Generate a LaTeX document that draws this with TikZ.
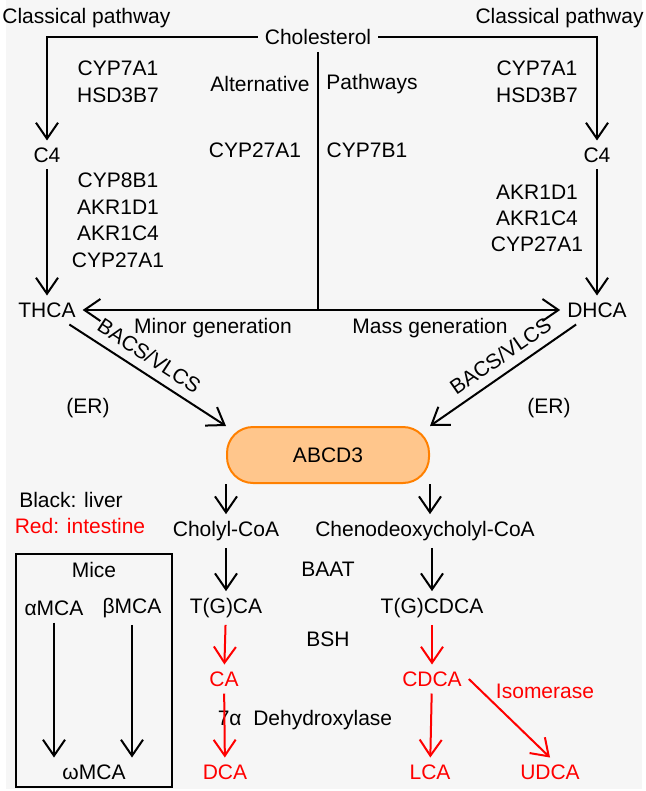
\documentclass[tikz,border=0pt]{standalone}
\usepackage{fontspec}
\setmainfont{Liberation Sans}
\usetikzlibrary{arrows.meta}
\begin{document}
\begin{tikzpicture}[x=0.5pt,y=-0.5pt,font=\fontsize{10.5}{12}\selectfont,
  arr/.style={draw,line width=1pt,-{Straight Barb[length=8pt,width=11pt]}},
  rarr/.style={arr,red},
  red text/.style={text=red}]
\useasboundingbox (0,0) rectangle (646,791);
\fill[gray!7] (6,0) rectangle (642,789);
% top
\node (chol) at (318,37) {Cholesterol};
\node (cpl) at (0,18) [anchor=west,inner xsep=1pt] {Classical pathway};
\node (cpr) at (646,18) [anchor=east,inner xsep=1pt] {Classical pathway};
\node (c4l) at (47,155) {C4};
\node (c4r) at (597,155) {C4};
\node (thca) at (47,310) {THCA};
\node (dhca) at (597,310) {DHCA};
\node at (118,68) {CYP7A1};
\node at (118,95) {HSD3B7};
\node at (537,68) {CYP7A1};
\node at (537,95) {HSD3B7};
\node at (260,84) {Alternative};
\node at (372,84) {Pathways};
\node at (255,150) {CYP27A1};
\node at (367,150) {CYP7B1};
\node at (118,180) {CYP8B1};
\node at (118,207) {AKR1D1};
\node at (118,233) {AKR1C4};
\node at (118,260) {CYP27A1};
\node at (537,192) {AKR1D1};
\node at (537,218) {AKR1C4};
\node at (537,244) {CYP27A1};
\node at (213,328) {Minor generation};
\node at (430,328) {Mass generation};
\coordinate (mid) at (318,310);
\draw[arr] (chol.west) -| (c4l);
\draw[arr] (chol.east) -| (c4r);
\draw[arr] (c4l) -- (thca);
\draw[arr] (c4r) -- (dhca);
\draw[line width=1pt] (chol) -- (mid);
\draw[arr,{Straight Barb[length=8pt,width=11pt]}-{Straight Barb[length=8pt,width=11pt]}] (thca) -- (dhca);
% ABCD3
\node (abcd) at (328,455) [draw=orange,line width=1pt,fill=orange!45,rounded corners=13pt,
  minimum width=101pt,minimum height=28pt] {ABCD3};
\draw[arr] (thca) -- (abcd.north west) node[pos=0.45,sloped,above=1pt] {BACS/VLCS};
\draw[arr] (dhca) -- (abcd.north east) node[pos=0.45,sloped,above=1pt] {BACS/VLCS};
\node at (88,408) {(ER)};
\node at (549,408) {(ER)};
% lower
\node (liver) at (71,500) {Black: liver};
\node[red text] (intest) at (80,526) {Red: intestine};
\node (ccoa) at (226,531) {Cholyl-CoA};
\node (cdcoa) at (425,531) {Chenodeoxycholyl-CoA};
\node (tgca) at (226,608) {T(G)CA};
\node (tgcdca) at (432,608) {T(G)CDCA};
\node (baat) at (328,569) {BAAT};
\node (bsh) at (328,639) {BSH};
\node[red text] (ca) at (224,679) {CA};
\node[red text] (cdca) at (432,679) {CDCA};
\node[red text] (dca) at (225,772) {DCA};
\node[red text] (lca) at (430,772) {LCA};
\node[red text] (udca) at (550,772) {UDCA};
\node[red text] (isom) at (545,691) {Isomerase};
\node (dehyd) at (305,720) {7α\ \ Dehydroxylase};
\draw[arr] (abcd.south west) coordinate (a1) -- (a1 |- ccoa.north);
\draw[arr] (abcd.south east) coordinate (a2) -- (a2 |- cdcoa.north);
\draw[arr] (ccoa) -- (tgca);
\draw[arr] (cdcoa.south -| tgcdca) -- (tgcdca);
\draw[rarr] (tgca) -- (ca);
\draw[rarr] (tgcdca) -- (cdca);
\draw[rarr] (ca) -- (dca);
\draw[rarr] (cdca) -- (lca);
\draw[rarr] (cdca.east) -- (udca.north);
% mice box
\draw[line width=1.2pt] (16,554) rectangle (172,787);
\node (mice) at (94,570) {Mice};
\node (amca) at (54,608) {αMCA};
\node (bmca) at (132,608) {βMCA};
\node (omca) at (94,772) {ωMCA};
\draw[arr] (amca) -- (amca |- omca.north);
\draw[arr] (bmca) -- (bmca |- omca.north);
\end{tikzpicture}
\end{document}
